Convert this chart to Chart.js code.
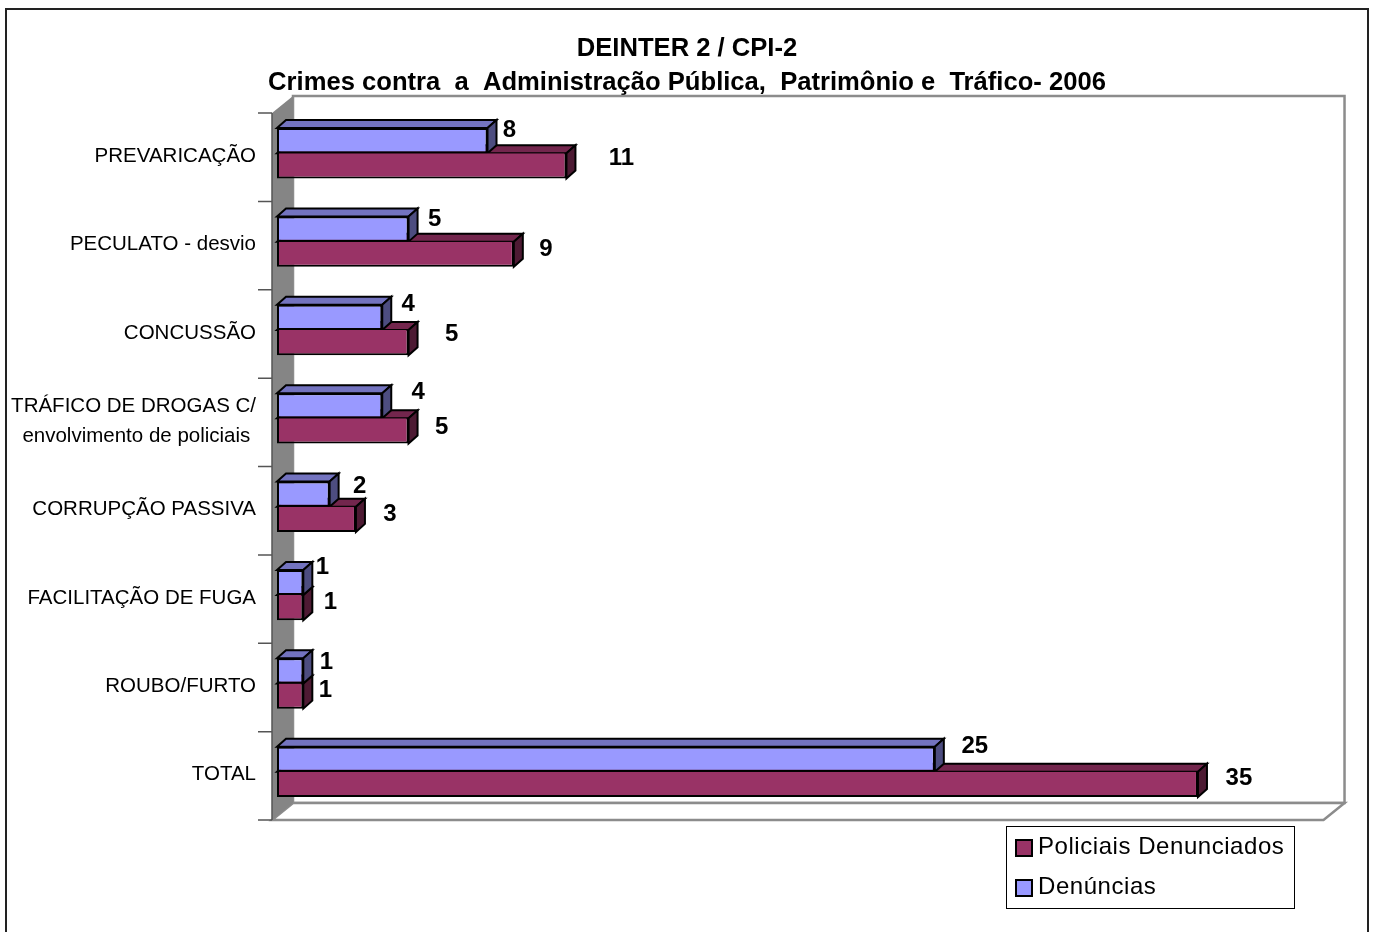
<!DOCTYPE html>
<html>
<head>
<meta charset="utf-8">
<title>DEINTER 2 / CPI-2</title>
<script src="https://cdn.jsdelivr.net/npm/chart.js@4"></script>
<style>
html,body{margin:0;padding:0;background:#fff;overflow:hidden;}
canvas{display:block;}
</style>
</head>
<body>
<canvas id="grafico" width="1374" height="932"></canvas>
<script>
const titulo = ["DEINTER 2 / CPI-2", "Crimes contra  a  Administração Pública,  Patrimônio e  Tráfico- 2006"];

const categorias = [
  "PREVARICAÇÃO",
  "PECULATO - desvio",
  "CONCUSSÃO",
  ["TRÁFICO DE DROGAS C/", "envolvimento de policiais "],
  "CORRUPÇÃO PASSIVA",
  "FACILITAÇÃO DE FUGA",
  "ROUBO/FURTO",
  "TOTAL"
];
const denuncias = [8, 5, 4, 4, 2, 1, 1, 25];
const policiais = [11, 9, 5, 5, 3, 1, 1, 35];

/* rotulos foram movidos a mao no original: deslocamento a partir da ponta da barra */
const nudgeDenuncias = [[22,-10],[26,-10],[26,-13],[36,-13],[30,-8],[19,-15],[23,-8],[40,-13]];
const nudgePoliciais = [[55,-7],[32,-5],[43,-8],[33,-4],[34,-5],[27,-5],[22,-6],[41,-6]];

const AZUL = {front:"#9999ff", top:"#7373bf", side:"#4d4d80"};
const VINHO = {front:"#993366", top:"#73264d", side:"#4d1a33"};
const FONTE = "'Liberation Sans', Arial, sans-serif";
const DX = 9, DY = 8;

function poly(ctx, pts, fill, stroke, lw){
  ctx.beginPath();
  pts.forEach((p,i)=> i ? ctx.lineTo(p[0],p[1]) : ctx.moveTo(p[0],p[1]));
  ctx.closePath();
  if(fill){ ctx.fillStyle = fill; ctx.fill(); }
  if(stroke){ ctx.strokeStyle = stroke; ctx.lineWidth = lw; ctx.stroke(); }
}

/* moldura externa */
const moldura = {
  id:"moldura",
  beforeDraw(chart){
    const ctx = chart.ctx;
    ctx.save();
    ctx.strokeStyle = "#222";
    ctx.lineWidth = 2;
    ctx.strokeRect(6, 9, 1362, 940);
    ctx.restore();
  }
};

/* paredes, piso e faces 3D das barras */
const caixa3d = {
  id:"caixa3d",
  beforeDatasetsDraw(chart){
    const ctx = chart.ctx, a = chart.chartArea;
    const l = a.left-5, r = chart.scales.x.getPixelForValue(40)-6, t = a.top+4, b = a.bottom+4;
    const wx = 21, wy = 17;
    ctx.save();
    poly(ctx, [[l+wx,t-wy],[r+wx,t-wy],[r+wx,b-wy],[l+wx,b-wy]], "#fff", "#8c8c8c", 2.5);
    poly(ctx, [[l,b],[l+wx,b-wy],[r+wx,b-wy],[r,b]], "#fff", "#8c8c8c", 2.5);
    poly(ctx, [[l,t],[l+wx,t-wy],[l+wx,b-wy],[l,b]], "#858585", null);

    ctx.strokeStyle = "#555";
    ctx.lineWidth = 1.5;
    ctx.beginPath();
    ctx.moveTo(l, t); ctx.lineTo(l, b);
    const passo = (b-t)/categorias.length;
    for(let i=0;i<=categorias.length;i++){
      ctx.moveTo(l-14, t+i*passo);
      ctx.lineTo(l, t+i*passo);
    }
    ctx.stroke();

    /* vinho primeiro, azul por cima */
    [[1,VINHO],[0,AZUL]].forEach(([ds,cor])=>{
      chart.getDatasetMeta(ds).data.forEach(bar=>{
        const p = bar.getProps(["x","y","base","height"]);
        const top = p.y-p.height/2, bot = p.y+p.height/2;
        poly(ctx, [[p.base,top],[p.base+DX,top-DY],[p.x+DX,top-DY],[p.x,top]], cor.top, "#000", 2);
        poly(ctx, [[p.x,top],[p.x+DX,top-DY],[p.x+DX,bot-DY],[p.x,bot]], cor.side, "#000", 2);
      });
    });
    ctx.restore();
  }
};

/* rotulos de valor e legenda */
const rotulos = {
  id:"rotulos",
  afterDatasetsDraw(chart){
    const ctx = chart.ctx;
    ctx.save();
    ctx.font = "bold 24px "+FONTE;
    ctx.fillStyle = "#000";
    ctx.textAlign = "center";
    ctx.textBaseline = "middle";
    [[0,denuncias,nudgeDenuncias],[1,policiais,nudgePoliciais]].forEach(([ds,vals,nudge])=>{
      chart.getDatasetMeta(ds).data.forEach((bar,i)=>{
        ctx.fillText(vals[i], bar.x+nudge[i][0], bar.y+nudge[i][1]);
      });
    });

    ctx.fillStyle = "#fff";
    ctx.strokeStyle = "#000";
    ctx.lineWidth = 1;
    ctx.fillRect(1006.5,826.5,288,82);
    ctx.strokeRect(1006.5,826.5,288,82);

    ctx.textAlign = "left";
    ctx.font = "24px "+FONTE;
    ctx.letterSpacing = "0.55px";
    [1,0].forEach((ds,i)=>{
      const d = chart.data.datasets[ds];
      const y = 847+i*40;
      ctx.fillStyle = d.backgroundColor;
      ctx.fillRect(1016,y-7,16,16);
      ctx.strokeStyle = "#000";
      ctx.lineWidth = 2;
      ctx.strokeRect(1016,y-7,16,16);
      ctx.fillStyle = "#000";
      ctx.fillText(d.label, 1038, y);
    });
    ctx.restore();
  }
};

new Chart(document.getElementById("grafico"),{
  type:"bar",
  data:{
    labels:categorias,
    datasets:[
      {label:"Denúncias", data:denuncias, backgroundColor:AZUL.front, borderColor:"#000", borderWidth:2, borderSkipped:false},
      {label:"Policiais Denunciados", data:policiais, backgroundColor:VINHO.front, borderColor:"#000", borderWidth:2, borderSkipped:"top"}
    ]
  },
  options:{
    indexAxis:"y",
    responsive:false,
    animation:false,
    barPercentage:1,
    categoryPercentage:0.57,
    layout:{padding:{left:5,right:5,top:32,bottom:116}},
    plugins:{
      legend:{display:false},
      tooltip:{enabled:false},
      title:{
        display:true,
        text:titulo,
        color:"#000",
        font:{family:FONTE,size:25.6,weight:"bold",lineHeight:1.33},
        padding:{top:0,bottom:9}
      }
    },
    scales:{
      x:{min:0,max:41.5,display:false},
      y:{
        grid:{display:false},
        border:{display:false},
        afterFit(s){ s.width = 272; },
        ticks:{
          color:"#000",
          padding:13,
          labelOffset:3,
          autoSkip:false,
          font:{family:FONTE,size:20.5,lineHeight:1.5}
        }
      }
    }
  },
  plugins:[moldura,caixa3d,rotulos]
});
</script>
</body>
</html>
